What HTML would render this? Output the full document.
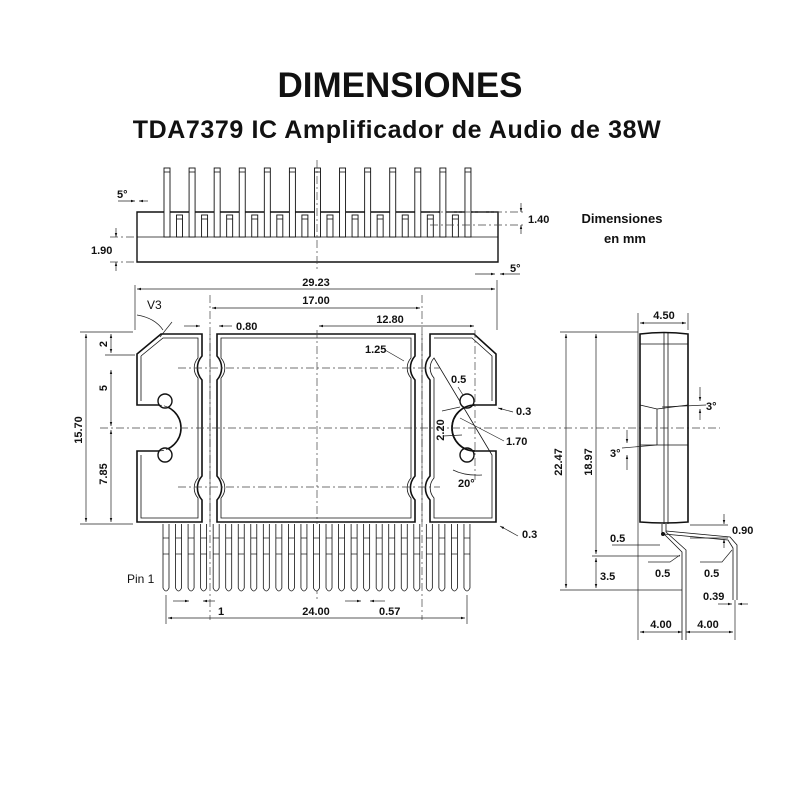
<!DOCTYPE html>
<html><head><meta charset="utf-8"><style>
body{margin:0;background:#fff;width:800px;height:800px;overflow:hidden}
svg{display:block}
text{font-family:"Liberation Sans",sans-serif;font-weight:bold;fill:#111}
.t{font-size:11px}
.l{stroke:#111;fill:none;stroke-width:1.8}
.th{stroke:#111;fill:none;stroke-width:0.8}
.c{stroke:#444;fill:none;stroke-width:0.7;stroke-dasharray:8 3 2 3}
.d{stroke:#222;fill:none;stroke-width:0.7}
</style></head><body>
<svg id="s" width="800" height="800" viewBox="0 0 800 800">
<defs><marker id="a" viewBox="0 0 10 10" refX="10" refY="5" markerWidth="6" markerHeight="6" orient="auto-start-reverse"><path d="M0,2 L10,5 L0,8z" fill="#111"/></marker></defs>
<text x="400" y="97" text-anchor="middle" style="font-size:35px">DIMENSIONES</text>
<text x="397" y="138" text-anchor="middle" style="font-size:25px;letter-spacing:0.6px">TDA7379 IC Amplificador de Audio de 38W</text>
<text x="622" y="223" text-anchor="middle" style="font-size:13px">Dimensiones</text>
<text x="625" y="243" text-anchor="middle" style="font-size:13px">en mm</text>

<!-- top view -->
<path class="l" d="M137,212 L498,212 L498,262 L137,262 Z" style="stroke-width:1.4"/>
<line class="th" x1="137" y1="237" x2="498" y2="237"/>
<g id="tp"></g>
<line class="c" x1="317" y1="160" x2="317" y2="270"/>
<line class="c" x1="430" y1="212" x2="525" y2="212"/>
<line class="c" x1="430" y1="225" x2="525" y2="225"/>
<line class="d" x1="521" y1="203" x2="521" y2="212" marker-end="url(#a)"/>
<line class="d" x1="521" y1="234" x2="521" y2="225" marker-end="url(#a)"/>
<text class="t" x="528" y="223">1.40</text>
<line class="c" x1="110" y1="237" x2="137" y2="237"/>
<line class="c" x1="110" y1="262" x2="137" y2="262"/>
<line class="d" x1="116" y1="228" x2="116" y2="237" marker-end="url(#a)"/>
<line class="d" x1="116" y1="271" x2="116" y2="262" marker-end="url(#a)"/>
<text class="t" x="91" y="254">1.90</text>
<text class="t" x="117" y="198">5°</text>
<line class="d" x1="118" y1="201" x2="135" y2="201" marker-end="url(#a)"/>
<line class="d" x1="148" y1="201" x2="139" y2="201" marker-end="url(#a)"/>
<text class="t" x="510" y="272">5°</text>
<line class="d" x1="475" y1="274" x2="495" y2="274" marker-end="url(#a)"/>
<line class="d" x1="520" y1="274" x2="500" y2="274" marker-end="url(#a)"/>

<!-- main dims -->
<line class="d" x1="135" y1="285" x2="135" y2="330"/>
<line class="d" x1="497" y1="280" x2="497" y2="330"/>
<line class="d" x1="137" y1="289" x2="495" y2="289" marker-start="url(#a)" marker-end="url(#a)"/>
<text class="t" x="316" y="286" text-anchor="middle">29.23</text>
<line class="c" x1="210" y1="295" x2="210" y2="620"/>
<line class="c" x1="422" y1="295" x2="422" y2="620"/>
<line class="d" x1="212" y1="308" x2="420" y2="308" marker-start="url(#a)" marker-end="url(#a)"/>
<text class="t" x="316" y="304" text-anchor="middle">17.00</text>
<line class="d" x1="319" y1="326" x2="474" y2="326" marker-start="url(#a)" marker-end="url(#a)"/>
<text class="t" x="390" y="323" text-anchor="middle">12.80</text>
<line class="d" x1="184" y1="326" x2="200" y2="326" marker-end="url(#a)"/>
<line class="d" x1="232" y1="326" x2="219" y2="326" marker-end="url(#a)"/>
<text class="t" x="236" y="330">0.80</text>
<text x="147" y="309" style="font-size:12px;font-weight:normal">V3</text>
<path class="d" d="M137,315 Q155,318 163,330"/>
<line class="d" x1="160" y1="337" x2="172" y2="322"/>

<!-- body -->
<g id="body"></g>
<line class="c" x1="100" y1="428" x2="720" y2="428"/>
<line class="c" x1="317" y1="330" x2="317" y2="600"/>
<line class="c" x1="178" y1="368" x2="440" y2="368"/>
<line class="c" x1="178" y1="487" x2="440" y2="487"/>
<line class="c" x1="475" y1="330" x2="475" y2="480"/>

<!-- left dims -->
<line class="d" x1="80" y1="332" x2="133" y2="332"/>
<line class="d" x1="80" y1="524" x2="133" y2="524"/>
<line class="d" x1="105" y1="355" x2="135" y2="355"/>
<line class="d" x1="86" y1="334" x2="86" y2="522" marker-start="url(#a)" marker-end="url(#a)"/>
<line class="d" x1="111" y1="334" x2="111" y2="353" marker-start="url(#a)" marker-end="url(#a)"/>
<line class="d" x1="111" y1="370" x2="111" y2="426" marker-start="url(#a)" marker-end="url(#a)"/>
<line class="d" x1="111" y1="430" x2="111" y2="522" marker-start="url(#a)" marker-end="url(#a)"/>
<text class="t" transform="translate(82,430) rotate(-90)" text-anchor="middle">15.70</text>
<text class="t" transform="translate(107,344) rotate(-90)" text-anchor="middle">2</text>
<text class="t" transform="translate(107,388) rotate(-90)" text-anchor="middle">5</text>
<text class="t" transform="translate(107,474) rotate(-90)" text-anchor="middle">7.85</text>

<!-- right labels -->
<text class="t" x="365" y="353">1.25</text>
<line class="d" x1="385" y1="350" x2="404" y2="361"/>
<text class="t" x="451" y="383">0.5</text>
<line class="d" x1="458" y1="387" x2="463" y2="395"/>
<text class="t" x="516" y="415">0.3</text>
<line class="d" x1="513" y1="412" x2="498" y2="408" marker-end="url(#a)"/>
<text class="t" x="506" y="445">1.70</text>
<line class="d" x1="504" y1="441" x2="460" y2="418"/>
<text class="t" transform="translate(444,430) rotate(-90)" text-anchor="middle">2.20</text>
<line class="d" x1="442" y1="411" x2="460" y2="407"/>
<line class="d" x1="443" y1="436" x2="462" y2="435"/>
<text class="t" x="458" y="487">20°</text>
<path class="d" d="M453,470 Q465,476 482,475"/>
<text class="t" x="522" y="538">0.3</text>
<line class="d" x1="518" y1="536" x2="500" y2="526" marker-end="url(#a)"/>

<!-- pins bottom -->
<g id="bp"></g>
<text x="127" y="583" style="font-size:12px;font-weight:normal">Pin 1</text>
<line class="d" x1="166" y1="595" x2="166" y2="624"/>
<line class="d" x1="467" y1="595" x2="467" y2="624"/>
<line class="d" x1="168" y1="618" x2="465" y2="618" marker-start="url(#a)" marker-end="url(#a)"/>
<text class="t" x="316" y="615" text-anchor="middle">24.00</text>
<line class="d" x1="173" y1="601" x2="189" y2="601" marker-end="url(#a)"/>
<line class="d" x1="215" y1="601" x2="203" y2="601" marker-end="url(#a)"/>
<text class="t" x="218" y="615">1</text>
<line class="d" x1="345" y1="601" x2="361" y2="601" marker-end="url(#a)"/>
<line class="d" x1="385" y1="601" x2="370" y2="601" marker-end="url(#a)"/>
<text class="t" x="379" y="615">0.57</text>

<!-- side view -->
<path class="l" d="M640,334 Q664,331 688,334 L688,522 Q664,524 640,522 Z" style="stroke-width:1.6"/>
<line class="th" x1="664" y1="332" x2="664" y2="524"/>
<line class="th" x1="668" y1="332" x2="668" y2="524"/>
<line class="th" x1="640" y1="344" x2="688" y2="344"/>
<path class="th" d="M640,405 L657,409 L688,405 M640,445 L657,445 L688,445 M657,409 L657,445"/>
<line class="d" x1="638" y1="313" x2="638" y2="640"/>
<line class="d" x1="688" y1="313" x2="688" y2="330"/>
<line class="d" x1="640" y1="323" x2="686" y2="323" marker-start="url(#a)" marker-end="url(#a)"/>
<text class="t" x="664" y="319" text-anchor="middle">4.50</text>
<text class="t" x="706" y="410">3°</text>
<line class="d" x1="662" y1="407" x2="706" y2="405"/>
<line class="d" x1="700" y1="387" x2="700" y2="401" marker-end="url(#a)"/>
<line class="d" x1="700" y1="420" x2="700" y2="409" marker-end="url(#a)"/>
<text class="t" x="610" y="457">3°</text>
<line class="d" x1="622" y1="448" x2="657" y2="445"/>
<line class="d" x1="627" y1="430" x2="627" y2="443" marker-end="url(#a)"/>
<line class="d" x1="627" y1="470" x2="627" y2="455" marker-end="url(#a)"/>
<line class="d" x1="560" y1="332" x2="638" y2="332"/>
<line class="d" x1="560" y1="590" x2="682" y2="590"/>
<line class="d" x1="592" y1="556" x2="680" y2="556"/>
<line class="d" x1="566" y1="334" x2="566" y2="588" marker-start="url(#a)" marker-end="url(#a)"/>
<line class="d" x1="596" y1="334" x2="596" y2="554" marker-start="url(#a)" marker-end="url(#a)"/>
<line class="d" x1="596" y1="558" x2="596" y2="588" marker-start="url(#a)" marker-end="url(#a)"/>
<text class="t" transform="translate(562,462) rotate(-90)" text-anchor="middle">22.47</text>
<text class="t" transform="translate(592,462) rotate(-90)" text-anchor="middle">18.97</text>
<text class="t" x="600" y="580">3.5</text>
<path class="th" d="M662,524 L662,532 L682,552 L682,640 M666,524 L666,532 L686,550 L686,640"/>
<path class="th" d="M664,534 L728,540 L733,548 L733,600 M666,531 L730,537 L737,545 L737,600"/>
<circle cx="663" cy="534" r="2" fill="#111"/>
<text class="t" x="610" y="542">0.5</text>
<line class="d" x1="612" y1="545" x2="660" y2="545"/>
<text class="t" x="655" y="577">0.5</text>
<path class="d" d="M648,562 L670,562 L680,555"/>
<text class="t" x="704" y="577">0.5</text>
<path class="d" d="M700,562 L722,562 L732,550"/>
<line class="d" x1="690" y1="525" x2="728" y2="525"/>
<line class="d" x1="690" y1="538" x2="728" y2="538"/>
<line class="d" x1="724" y1="514" x2="724" y2="524" marker-end="url(#a)"/>
<line class="d" x1="724" y1="548" x2="724" y2="539" marker-end="url(#a)"/>
<text class="t" x="732" y="534">0.90</text>
<text class="t" x="703" y="600">0.39</text>
<line class="d" x1="718" y1="604" x2="732" y2="604" marker-end="url(#a)"/>
<line class="d" x1="748" y1="604" x2="738" y2="604" marker-end="url(#a)"/>
<line class="d" x1="735" y1="600" x2="735" y2="640"/>
<line class="d" x1="640" y1="632" x2="682" y2="632" marker-start="url(#a)" marker-end="url(#a)"/>
<line class="d" x1="686" y1="632" x2="733" y2="632" marker-start="url(#a)" marker-end="url(#a)"/>
<text class="t" x="661" y="628" text-anchor="middle">4.00</text>
<text class="t" x="708" y="628" text-anchor="middle">4.00</text>
</svg>
<script>
var NS="http://www.w3.org/2000/svg";
function el(p,t,a){var e=document.createElementNS(NS,t);for(var k in a)e.setAttribute(k,a[k]);document.getElementById(p).appendChild(e);return e;}
for(var i=0;i<13;i++){var x=167+i*25.08;el("tp","rect",{x:x-3,y:168,width:6,height:69,fill:"#fff",stroke:"#111","stroke-width":"0.9"});el("tp","line",{x1:x-3,y1:172,x2:x+3,y2:172,stroke:"#111","stroke-width":"0.8"});}
for(var i=0;i<12;i++){var x=179.5+i*25.08;el("tp","rect",{x:x-3,y:215,width:6,height:22,fill:"#fff",stroke:"#111","stroke-width":"0.9"});el("tp","line",{x1:x-3,y1:219,x2:x+3,y2:219,stroke:"#111","stroke-width":"0.8"});}
for(var i=0;i<25;i++){var x=166+i*12.54;el("bp","path",{d:"M"+(x-3)+",524 L"+(x-3)+",588 Q"+x+",594 "+(x+3)+",588 L"+(x+3)+",524",fill:"#fff",stroke:"#111","stroke-width":"0.8"});el("bp","line",{x1:x-3,y1:538,x2:x+3,y2:538,stroke:"#111","stroke-width":"0.7"});el("bp","line",{x1:x-3,y1:554,x2:x+3,y2:554,stroke:"#111","stroke-width":"0.7"});}
var b="body";
function sect(d,w){el(b,"path",{d:d,fill:"none",stroke:"#111","stroke-width":w||1.6});}
// left wing
sect("M137,354 L161,334 L202,334 L202,356 A18,18 0 0 0 202,380 L202,476 A18,18 0 0 0 202,500 L202,522 L137,522 L137,451 L158,451 A23,23 0 0 0 158,405 L137,405 Z");
sect("M141,356 L163,338 L198,338 L198,358 A15,15 0 0 0 198,378 L198,478 A15,15 0 0 0 198,498 L198,518 L141,518 L141,455 M141,401 L141,356",0.8);
el(b,"circle",{cx:165,cy:401,r:7,fill:"#fff",stroke:"#111","stroke-width":1.4});
el(b,"circle",{cx:165,cy:455,r:7,fill:"#fff",stroke:"#111","stroke-width":1.4});
el(b,"path",{d:"M158,405 A23,23 0 0 1 158,451",fill:"none",stroke:"#111","stroke-width":0.6,"stroke-dasharray":"4 2"});
// center
sect("M217,334 L415,334 L415,356 A18,18 0 0 0 415,380 L415,476 A18,18 0 0 0 415,500 L415,522 L217,522 L217,500 A18,18 0 0 0 217,476 L217,380 A18,18 0 0 0 217,356 Z");
sect("M221,338 L411,338 L411,358 A15,15 0 0 0 411,378 L411,478 A15,15 0 0 0 411,498 L411,518 L221,518 L221,498 A15,15 0 0 0 221,478 L221,378 A15,15 0 0 0 221,358 Z",0.8);
// right wing
sect("M430,334 L474,334 L496,354 L496,405 L475,405 A23,23 0 0 0 475,451 L496,451 L496,522 L430,522 L430,500 A18,18 0 0 1 430,476 L430,380 A18,18 0 0 1 430,356 Z");
sect("M434,338 L472,338 L492,356 L492,401 M492,455 L492,518 L434,518 L434,498 A15,15 0 0 1 434,478 L434,378 A15,15 0 0 1 434,358 Z",0.8);
el(b,"circle",{cx:467,cy:401,r:7,fill:"#fff",stroke:"#111","stroke-width":1.4});
el(b,"circle",{cx:467,cy:455,r:7,fill:"#fff",stroke:"#111","stroke-width":1.4});
el(b,"path",{d:"M475,405 A23,23 0 0 0 475,451",fill:"none",stroke:"#111","stroke-width":1.6});
el(b,"line",{x1:210,y1:334,x2:210,y2:522,stroke:"#111","stroke-width":0.5});
el(b,"line",{x1:422,y1:334,x2:422,y2:522,stroke:"#111","stroke-width":0.5});
</script>
</body></html>
